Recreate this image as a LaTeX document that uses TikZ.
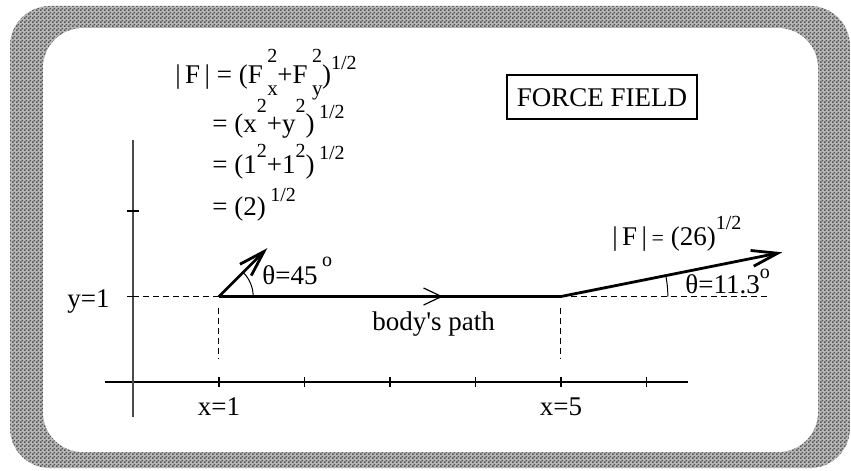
\documentclass[tikz,border=0pt]{standalone}
\usepackage{fontspec}
\setmainfont{Liberation Serif}
\usepackage{tikz}
\usetikzlibrary{arrows.meta,patterns.meta,decorations.markings}
\definecolor{checkdark}{RGB}{85,85,85}
\definecolor{checklight}{RGB}{185,185,185}
\definecolor{axisgrey}{RGB}{75,75,75}
\newcommand{\up}[2][7pt]{\raisebox{#1}{\fontsize{10}{10}\selectfont #2}}
\newcommand{\subup}[2]{\,\rlap{\raisebox{-6pt}{\fontsize{10.5}{10}\selectfont #1}}\raisebox{10.5pt}{\fontsize{10}{10}\selectfont #2}}
\tikzdeclarepattern{
  name=finecheck,
  type=uncolored,
  bounding box={(0pt,0pt) and (2pt,2pt)},
  tile size={(2pt,2pt)},
  code={
    \fill (0pt,0pt) rectangle (1pt,1pt);
    \fill (1pt,1pt) rectangle (2pt,2pt);
  }
}
\tikzset{
  base/.style={font=\fontsize{13.5}{16}\selectfont, inner sep=0pt},
  lbl/.style={base, anchor=base west},
  titlebox/.style={base, draw, line width=1pt, minimum width=95pt, minimum height=22pt},
  xaxisline/.style={line width=0.7pt},
  yaxisline/.style={line width=1pt, draw=axisgrey},
  tickmark/.style={line width=0.6pt},
  guide/.style={dash pattern=on 3pt off 2pt, line width=0.5pt},
  bodypath/.style={line width=1.4pt, postaction={decorate},
    decoration={markings, mark=at position 0.655 with {\arrow{Straight Barb[length=9pt,width=8.5pt,line width=0.6pt]}}}},
  force/.style={line width=1.4pt, -{Straight Barb[length=13pt,width=8pt]}},
  anglearc/.style={line width=0.5pt},
}
\begin{document}
\begin{tikzpicture}[x=42.75pt,y=42.75pt]
  \useasboundingbox (-1.561,-1.029) rectangle (8.392,4.468);
  % frame
  \fill[checklight, rounded corners=20pt] (-1.444,-1.006) rectangle (8.380,4.398);
  \fill[pattern=finecheck, pattern color=checkdark, rounded corners=20pt] (-1.444,-1.006) rectangle (8.380,4.398);
  \fill[white, rounded corners=20pt] (-1.058,-0.819) rectangle (8.006,4.140);
  % axes
  \draw[xaxisline] (-0.333,0) -- (6.485,0);
  \draw[yaxisline] (0,-0.41) -- (0,2.83);
  \foreach \i in {1,...,6} \draw[tickmark] (\i,-0.06) -- (\i,0.06);
  \foreach \j in {1,2} \draw[tickmark] (-0.07,\j) -- (0.07,\j);
  \coordinate (p1) at (1,1);
  \coordinate (p5) at (5,1);
  % guides
  \draw[guide] (0,1) -- (p1);
  \draw[guide] (1,0.87) -- (1,0.28);
  \draw[guide] (5,0.87) -- (5,0.28);
  \draw[guide] (p5) -- (7.42,1);
  % path and forces
  \draw[bodypath] (p1) -- (p5);
  \draw[force] (p1) -- ++(45:0.8) coordinate (f1);
  \draw[force] (p5) -- ++(11.3:2.64) coordinate (f5);
  \draw[anglearc] ([shift={(0.4,0)}]p1) arc[start angle=0,end angle=45,radius=0.4];
  \draw[anglearc] ([shift={(1.25,0)}]p5) arc[start angle=0,end angle=11.3,radius=1.25];
  % labels
  \node[lbl] (mag1) at (0.485,3.497) {|\,F\,| = (F\subup{x}{2}+F\subup{y}{2})\up{1/2}};
  \node[lbl] (mag2) at (0.918,2.924) {= (x\up[10pt]{2}+y\up[10pt]{2})\,\up{1/2}};
  \node[lbl] (mag3) at (0.918,2.444) {= (1\up[8pt]{2}+1\up[8pt]{2})\,\up{1/2}};
  \node[lbl] (mag4) at (0.918,1.942) {= (2)\,\up{1/2}};
  \node[titlebox] (title) at (5.48,3.33) {FORCE FIELD};
  \node[lbl] (mag26) at (5.596,1.602) {|\,F\,|\,{\fontsize{11}{11}\selectfont =} (26)\up[8pt]{1/2}};
  \node[lbl] (ang45) at (1.503,1.135) {θ=45\,\up[9pt]{o}};
  \node[lbl] (ang11) at (6.450,1.041) {θ=11.3\up[7.5pt]{o}};
  \node[lbl] (pathlbl) at (2.789,0.608) {body\textquotesingle s path};
  \node[base, anchor=base east] (ylbl) at (-0.274,0.877) {y=1};
  \node[base, anchor=base] (x1lbl) at (1,-0.386) {x=1};
  \node[base, anchor=base] (x5lbl) at (5,-0.386) {x=5};
\end{tikzpicture}
\end{document}
